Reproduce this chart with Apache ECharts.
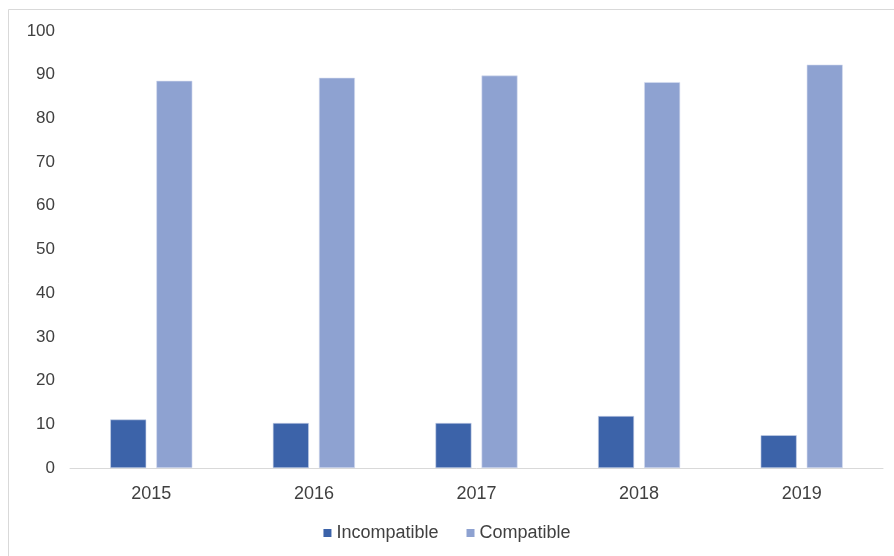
<!DOCTYPE html>
<html>
<head>
<meta charset="utf-8">
<script src="https://cdn.jsdelivr.net/npm/echarts@6/dist/echarts.min.js"></script>
<style>
html,body{margin:0;padding:0;background:#fff;}
#main{width:894px;height:556px;}
</style>
</head>
<body>
<div id="main"></div>
<script>
var categories = ['2015', '2016', '2017', '2018', '2019'];
var incompatible = [11.1, 10.3, 10.3, 11.9, 7.5];
var compatible = [88.6, 89.3, 89.8, 88.3, 92.3];
var yTicks = [0, 10, 20, 30, 40, 50, 60, 70, 80, 90, 100];

var chart = echarts.init(document.getElementById('main'));
chart.setOption({
  animation: false,
  backgroundColor: '#ffffff',
  graphic: [{
    type: 'rect',
    shape: { x: 8.5, y: 9.5, width: 900, height: 600 },
    style: { fill: 'none', stroke: '#d9d9d9', lineWidth: 1 },
    silent: true
  }],
  grid: { left: 70, right: 11, top: 31, bottom: 88, containLabel: false },
  legend: {
    bottom: 9,
    left: 'center',
    itemWidth: 8,
    itemHeight: 8,
    itemGap: 28,
    icon: 'rect',
    itemStyle: { borderWidth: 0 },
    textStyle: { fontFamily: 'Liberation Sans, Arial', fontSize: 18, color: '#404040', padding: [0, 0, 0, 0] },
    data: ['Incompatible', 'Compatible']
  },
  xAxis: {
    type: 'category',
    data: categories,
    axisLine: { lineStyle: { color: '#d9d9d9', width: 1 } },
    axisTick: { show: false },
    axisLabel: { fontFamily: 'Liberation Sans, Arial', fontSize: 18, color: '#404040', margin: 17 }
  },
  yAxis: {
    type: 'value',
    min: yTicks[0],
    max: yTicks[yTicks.length - 1],
    interval: 10,
    axisLine: { show: false },
    axisTick: { show: false },
    splitLine: { show: false },
    axisLabel: { fontFamily: 'Liberation Sans, Arial', fontSize: 17, color: '#404040', margin: 15 }
  },
  series: [
    {
      name: 'Incompatible',
      type: 'bar',
      data: incompatible,
      barWidth: 36,
      barGap: '28%',
      itemStyle: { color: '#3c63a9', borderColor: '#c9d4ea', borderWidth: 0.6 }
    },
    {
      name: 'Compatible',
      type: 'bar',
      data: compatible,
      barWidth: 36,
      barGap: '28%',
      itemStyle: { color: '#8ea2d1', borderColor: '#d6def0', borderWidth: 0.6 }
    }
  ]
});
</script>
</body>
</html>
